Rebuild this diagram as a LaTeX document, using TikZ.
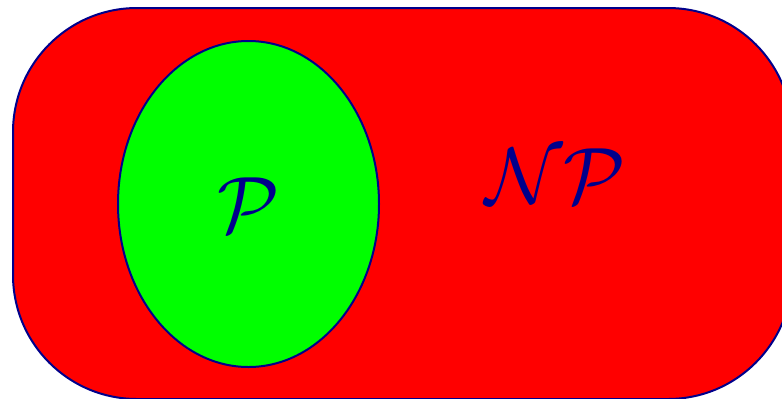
\RequirePackage{fix-cm}
\documentclass[tikz,border=0pt]{standalone}
\usetikzlibrary{shapes.geometric}
\definecolor{edgeblue}{RGB}{0,0,139}
\definecolor{npred}{RGB}{255,0,0}
\definecolor{pgreen}{RGB}{0,255,0}
\begin{document}
\begin{tikzpicture}[x=0.5pt,y=-0.5pt,
  classbox/.style={rectangle, draw=edgeblue, fill=npred, line width=1pt, rounded corners=62pt, inner sep=0pt},
  classoval/.style={ellipse, draw=edgeblue, fill=pgreen, line width=1pt, inner sep=0pt},
  classlabel/.style={text=edgeblue, inner sep=0pt, font=\fontsize{40}{42}\selectfont}]
\useasboundingbox (0,0) rectangle (782,398);
\clip (0,0) rectangle (782,398);
\node (np) [classbox, minimum width=389.5pt, minimum height=195.5pt] at (402.5,203.5) {};
\node (p) [classoval, minimum width=130.5pt, minimum height=163pt] at (248.5,204) {};
\node (plabel) [classlabel] at (248.5,205) {$\mathcal{P}$};
\node (nplabel) [classlabel] at (555.5,176) {$\mathcal{NP}$};
\end{tikzpicture}
\end{document}
